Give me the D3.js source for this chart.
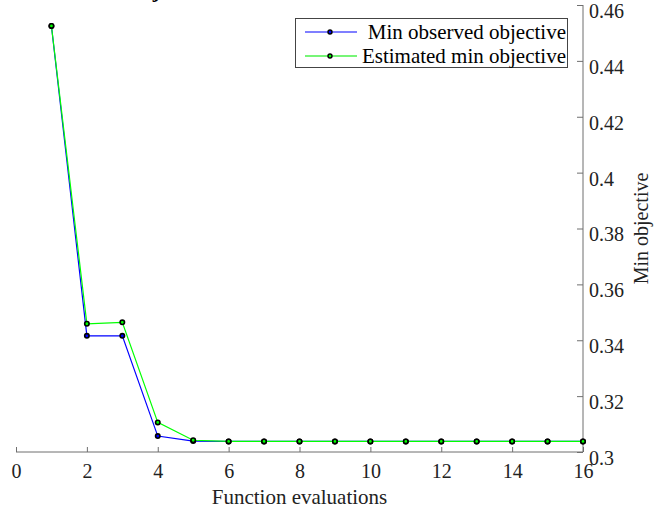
<!DOCTYPE html>
<html>
<head>
<meta charset="utf-8">
<script src="https://cdn.jsdelivr.net/npm/d3@7"></script>
<style>
  html, body { margin: 0; padding: 0; background: #fff; }
  svg { display: block; }
  text { font-family: "Liberation Serif", "Times New Roman", serif; }
</style>
</head>
<body>
<svg id="chart" width="663" height="511"></svg>
<script>
const evaluations = [1, 2, 3, 4, 5, 6, 7, 8, 9, 10, 11, 12, 13, 14, 15, 16];
const minObserved = [0.4525, 0.3416, 0.3416, 0.3057, 0.3039, 0.3038, 0.3038, 0.3038, 0.3038, 0.3038, 0.3038, 0.3038, 0.3038, 0.3038, 0.3038, 0.3038];
const estimatedMin = [0.4525, 0.3459, 0.3464, 0.3106, 0.3042, 0.3038, 0.3038, 0.3038, 0.3038, 0.3038, 0.3038, 0.3038, 0.3038, 0.3038, 0.3038, 0.3038];
const xTicks = [0, 2, 4, 6, 8, 10, 12, 14, 16];
const yTicks = [0.3, 0.32, 0.34, 0.36, 0.38, 0.4, 0.42, 0.44, 0.46];
const seriesNames = ["Min observed objective", "Estimated min objective"];
const seriesColors = ["#0000ff", "#00ff00"];
const titleText = "Min objective vs. Number of function evaluations";
const xLabel = "Function evaluations";
const yLabel = "Min objective";

(function () {
const svg = d3.select("#chart");
const pLeft = 16, pRight = 583, pTop = 5, pBottom = 452;
const x = d3.scaleLinear().domain([0, 16]).range([pLeft, pRight]);
const y = d3.scaleLinear().domain([0.3, 0.46]).range([pBottom, pTop]);
const axisColor = "#6f6f6f";
const fontSize = 20;

// title (mostly clipped above the view, as in the reference)
svg.append("text")
  .attr("x", (pLeft + pRight) / 2 + 9).attr("y", -3)
  .attr("text-anchor", "middle")
  .attr("font-weight", "bold")
  .attr("font-size", 21)
  .attr("fill", "#000")
  .text(titleText);

// x axis
const xAxis = d3.axisBottom(x).tickValues(xTicks).tickSize(-5).tickPadding(12).tickFormat(d3.format("d"));
const gx = svg.append("g").attr("transform", `translate(0,${pBottom})`).call(xAxis);
gx.select(".domain").attr("stroke", axisColor).attr("d", `M${pLeft},0H${pRight}`);
gx.selectAll(".tick line").attr("stroke", axisColor);
gx.selectAll(".tick text").attr("font-size", fontSize).attr("fill", "#222")
  .attr("font-family", "Liberation Serif, serif");

// y axis on right
const yAxis = d3.axisRight(y).tickValues(yTicks).tickSize(-6).tickPadding(6).tickFormat(d => String(+d.toFixed(2)));
const gy = svg.append("g").attr("transform", `translate(${pRight},0)`).call(yAxis);
gy.select(".domain").attr("stroke", axisColor).attr("d", `M0,${pTop}V${pBottom}`);
gy.selectAll(".tick line").attr("stroke", axisColor);
gy.selectAll(".tick text").attr("font-size", fontSize).attr("fill", "#222")
  .attr("font-family", "Liberation Serif, serif").attr("dy", "0.62em");

// axis labels
svg.append("text")
  .attr("x", (pLeft + pRight) / 2).attr("y", 504)
  .attr("text-anchor", "middle").attr("font-size", 21).attr("fill", "#222")
  .text(xLabel);
svg.append("text")
  .attr("transform", `translate(648,${(pTop + pBottom) / 2}) rotate(-90)`)
  .attr("text-anchor", "middle").attr("font-size", fontSize).attr("fill", "#222")
  .text(yLabel);

// series
const allSeries = [minObserved, estimatedMin];
const line = d3.line().x((d, i) => x(evaluations[i])).y(d => y(d));
allSeries.forEach((vals, si) => {
  svg.append("path").datum(vals)
    .attr("fill", "none").attr("stroke", seriesColors[si]).attr("stroke-width", 1.2)
    .attr("d", line);
});
allSeries.forEach((vals, si) => {
  svg.append("g").selectAll("circle").data(vals).join("circle")
    .attr("cx", (d, i) => x(evaluations[i])).attr("cy", d => y(d))
    .attr("r", 2.2).attr("fill", seriesColors[si]).attr("stroke", "#000").attr("stroke-width", 1.6);
});

// legend
const lg = svg.append("g");
lg.append("rect").attr("x", 295.5).attr("y", 18.5).attr("width", 272).attr("height", 49)
  .attr("fill", "#fff").attr("stroke", "#444").attr("stroke-width", 1);
const rowsY = [32, 56];
seriesNames.forEach((name, i) => {
  lg.append("line").attr("x1", 305).attr("x2", 357).attr("y1", rowsY[i]).attr("y2", rowsY[i])
    .attr("stroke", i === 0 ? seriesColors[i] : "#77f577").attr("stroke-width", i === 0 ? 1.2 : 2.2);
  lg.append("circle").attr("cx", 330).attr("cy", rowsY[i]).attr("r", 2)
    .attr("fill", seriesColors[i]).attr("stroke", "#000").attr("stroke-width", 1.4);
  lg.append("text").attr("x", 566).attr("y", rowsY[i]).attr("dy", "0.33em")
    .attr("text-anchor", "end").attr("font-size", 21).attr("fill", "#000")
    .text(name);
});
})();
</script>
</body>
</html>
